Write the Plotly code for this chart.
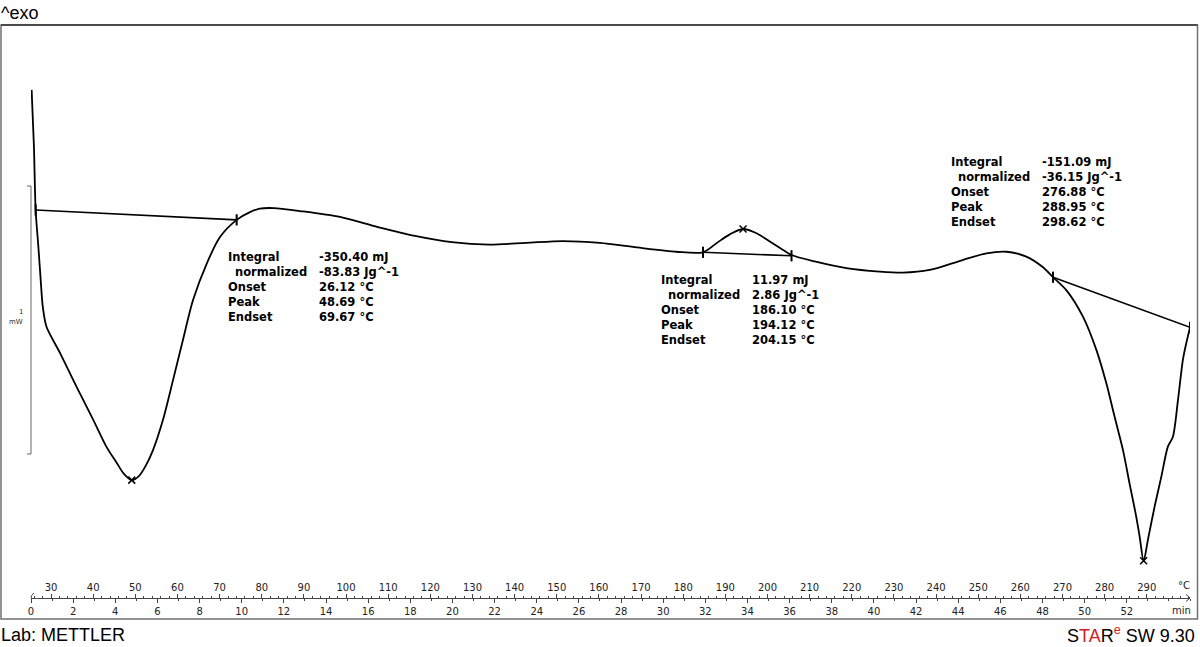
import plotly.graph_objects as go

# ---------------- data ----------------
time_min = [0.03, 0.14, 0.22, 0.35, 0.46, 0.56, 0.74, 1.38, 2.17, 2.96, 3.59, 4.07,
            4.41, 4.78, 5.12, 5.46, 5.79, 6.26, 6.74, 7.21, 7.69, 8.35, 8.97, 9.76, 10.39, 10.86,
            11.53, 12.76, 14.66, 16.46, 18.22, 19.97, 21.73, 23.48, 25.24, 27.00,
            28.75, 30.63, 31.89, 32.53, 33.16, 33.79, 34.43, 35.06, 35.69, 36.09,
            37.19, 38.76, 40.27, 41.37, 42.65, 44.21, 45.34, 46.29, 47.23, 48.01,
            48.50, 49.13, 49.92, 50.56, 51.03, 51.42, 51.82, 52.13, 52.45, 52.61,
            52.80, 53.00, 53.32, 53.64, 53.95, 54.19, 54.43, 54.66, 54.82, 55.00]
heat_flow_mW = [0.784, 0.571, 0.336, 0.198, 0.075, -0.026, -0.101, -0.198, -0.325, -0.448,
                -0.549, -0.608, -0.649, -0.672, -0.657, -0.616, -0.560, -0.448, -0.299, -0.149,
                0.000, 0.138, 0.235, 0.299, 0.328, 0.341, 0.343, 0.332, 0.310, 0.272, 0.239,
                0.216, 0.207, 0.213, 0.220, 0.213, 0.196, 0.180, 0.178, 0.212, 0.245,
                0.265, 0.249, 0.218, 0.187, 0.168, 0.144, 0.118, 0.106, 0.102, 0.112,
                0.149, 0.174, 0.180, 0.162, 0.123, 0.085, 0.037, -0.062, -0.187, -0.311,
                -0.435, -0.560, -0.684, -0.809, -0.883, -0.973, -0.896, -0.771, -0.659,
                -0.547, -0.510, -0.373, -0.224, -0.162, -0.102]

# integration baselines (start, end)
baseline_t = [[0.22, 9.76], [31.89, 36.09], [48.50, 55.00]]
baseline_h = [[0.336, 0.299], [0.178, 0.165], [0.085, -0.102]]

# peaks
peak_t = [4.78, 33.79, 52.80]
peak_h = [-0.672, 0.265, -0.973]

# evaluation results
result_labels = ["Integral", "normalized", "Onset", "Peak", "Endset"]
result_values = [
    ["-350.40 mJ", "-83.83 Jg^-1", "26.12 °C", "48.69 °C", "69.67 °C"],
    ["11.97 mJ", "2.86 Jg^-1", "186.10 °C", "194.12 °C", "204.15 °C"],
    ["-151.09 mJ", "-36.15 Jg^-1", "276.88 °C", "288.95 °C", "298.62 °C"],
]
# anchor of each result block (time in min, heat flow in mW)
result_anchor_t = [9.35, 29.90, 43.66]
result_anchor_h = [0.1604, 0.0746, 0.5149]

# axes
T_START = 25.25      # °C at t = 0
HEAT_RATE = 5.0      # K/min
T_END_MIN = 55.0
time_ticks = list(range(0, 53, 2))
temp_ticks = list(range(30, 291, 10))
Y_RANGE = [-1.1119, 1.0224]
SCALE_BAR_BOTTOM = -0.5746
SCALE_BAR_MW = 1.0

# ---------------- layout geometry ----------------
W, H = 1200, 647
ML, MR, MT, MB = 31, 10, 26, 49
PW, PH = W - ML - MR, H - MT - MB


def px_x(px):
    return (px - ML) / PW


def px_y(py):
    return (H - MB - py) / PH


TICK_FONT = dict(family="DejaVu Sans, Verdana, sans-serif", size=10, color="#222")
RES_FONT = dict(family="DejaVu Sans, Verdana, sans-serif", size=11.5, color="black")

fig = go.Figure()

fig.add_trace(go.Scatter(x=time_min, y=heat_flow_mW, mode="lines",
                         line=dict(color="black", width=1.8, shape="spline", smoothing=0.8),
                         hoverinfo="skip", showlegend=False))

for bt, bh in zip(baseline_t, baseline_h):
    fig.add_trace(go.Scatter(x=bt, y=bh, mode="lines+markers",
                             line=dict(color="black", width=1.6),
                             marker=dict(symbol="line-ns-open", size=8, color="black",
                                         line=dict(color="black", width=2)),
                             hoverinfo="skip", showlegend=False))

fig.add_trace(go.Scatter(x=peak_t, y=peak_h, mode="markers",
                         marker=dict(symbol="x-thin-open", size=7, color="black",
                                     line=dict(color="black", width=1.5)),
                         hoverinfo="skip", showlegend=False))

# invisible trace to carry the temperature axis
fig.add_trace(go.Scatter(x=[T_START, T_START + HEAT_RATE * T_END_MIN], y=[0, 0],
                         xaxis="x2", mode="markers", marker=dict(opacity=0),
                         hoverinfo="skip", showlegend=False))

annotations = []
for b, vals in enumerate(result_values):
    for i, (lab, val) in enumerate(zip(result_labels, vals)):
        annotations.append(dict(x=result_anchor_t[b], y=result_anchor_h[b], xref="x", yref="y",
                                text="<b>%s</b>" % lab, showarrow=False, xanchor="left",
                                yanchor="middle", xshift=(7 if i == 1 else 0) - 2,
                                yshift=-15 * i, font=RES_FONT))
        annotations.append(dict(x=result_anchor_t[b], y=result_anchor_h[b], xref="x", yref="y",
                                text="<b>%s</b>" % val, showarrow=False, xanchor="left",
                                yanchor="middle", xshift=91 - 2, yshift=-15 * i, font=RES_FONT))

# scale bar labels
annotations.append(dict(x=px_x(25), y=SCALE_BAR_BOTTOM + 0.53, xref="paper", yref="y",
                        text="1", showarrow=False, xanchor="right", yanchor="middle",
                        font=dict(family="DejaVu Sans, sans-serif", size=7, color="#333")))
annotations.append(dict(x=px_x(25), y=SCALE_BAR_BOTTOM + 0.493, xref="paper", yref="y",
                        text="mW", showarrow=False, xanchor="right", yanchor="middle",
                        font=dict(family="DejaVu Sans, sans-serif", size=7, color="#333")))

# unit labels of the ruler
annotations.append(dict(x=px_x(1184), y=px_y(585), xref="paper", yref="paper", text="°C",
                        showarrow=False, xanchor="center", yanchor="middle", font=TICK_FONT))
annotations.append(dict(x=px_x(1181), y=px_y(610), xref="paper", yref="paper", text="min",
                        showarrow=False, xanchor="center", yanchor="middle", font=TICK_FONT))

# header / footer
HF_FONT = dict(family="Liberation Sans, Arial, sans-serif", size=18, color="black")
annotations.append(dict(x=px_x(-1), y=px_y(13), xref="paper", yref="paper", text="^exo",
                        showarrow=False, xanchor="left", yanchor="middle", font=HF_FONT))
annotations.append(dict(x=px_x(-1), y=px_y(635), xref="paper", yref="paper", text="Lab: METTLER",
                        showarrow=False, xanchor="left", yanchor="middle", font=HF_FONT))
annotations.append(dict(x=px_x(1197), y=px_y(635), xref="paper", yref="paper",
                        text="S<span style='color:#d42020'>TA</span>R<sup><span style='color:#d42020'>e</span></sup> SW 9.30",
                        showarrow=False, xanchor="right", yanchor="middle", font=HF_FONT))

shapes = [
    # frame
    dict(type="rect", xref="paper", yref="paper", x0=px_x(1), x1=px_x(1197.5),
         y0=px_y(619), y1=px_y(25), line=dict(color="#707070", width=1.5)),
    dict(type="line", xref="paper", yref="paper", x0=px_x(1), x1=px_x(1197.5),
         y0=px_y(25), y1=px_y(25), line=dict(color="#333", width=1.5)),
    # 1 mW scale bar
    dict(type="line", xref="paper", yref="y", x0=0, x1=0,
         y0=SCALE_BAR_BOTTOM, y1=SCALE_BAR_BOTTOM + SCALE_BAR_MW,
         line=dict(color="#666", width=1)),
    dict(type="line", xref="paper", yref="y", x0=px_x(27), x1=0,
         y0=SCALE_BAR_BOTTOM, y1=SCALE_BAR_BOTTOM, line=dict(color="#666", width=1)),
    dict(type="line", xref="paper", yref="y", x0=px_x(27), x1=0,
         y0=SCALE_BAR_BOTTOM + SCALE_BAR_MW, y1=SCALE_BAR_BOTTOM + SCALE_BAR_MW,
         line=dict(color="#666", width=1)),
    # arrow head at the end of the ruler
    dict(type="path", xref="paper", yref="paper",
         path="M %f %f L %f %f L %f %f" % (px_x(ML + PW - 4), px_y(H - MB - 3.5),
                                            px_x(ML + PW), px_y(H - MB),
                                            px_x(ML + PW - 4), px_y(H - MB + 3.5)),
         line=dict(color="#444", width=1)),
    # small hook at the start of the ruler
    dict(type="path", xref="paper", yref="paper",
         path="M %f %f Q %f %f %f %f" % (px_x(ML + 3), px_y(H - MB - 5),
                                          px_x(ML), px_y(H - MB - 3),
                                          px_x(ML), px_y(H - MB)),
         line=dict(color="#444", width=1)),
]

fig.update_layout(
    width=W, height=H,
    margin=dict(l=ML, r=MR, t=MT, b=MB, pad=0),
    paper_bgcolor="white", plot_bgcolor="white",
    showlegend=False,
    xaxis=dict(range=[0, T_END_MIN], tickvals=time_ticks, ticks="outside", ticklen=4,
               tickwidth=1, tickcolor="#444", showline=True, linecolor="#444", linewidth=1,
               showgrid=False, zeroline=False, tickfont=TICK_FONT, fixedrange=True,
               minor=dict(dtick=1, tick0=0, ticks="outside", ticklen=2, tickcolor="#444")),
    xaxis2=dict(range=[T_START, T_START + HEAT_RATE * T_END_MIN], overlaying="x", anchor="y",
                side="bottom", tickvals=temp_ticks, ticks="inside", ticklen=4, tickwidth=1,
                tickcolor="#444", ticklabelposition="inside", showline=False, showgrid=False,
                zeroline=False, tickfont=TICK_FONT, fixedrange=True,
                minor=dict(dtick=2, tick0=0, ticks="inside", ticklen=2, tickcolor="#444")),
    yaxis=dict(range=Y_RANGE, visible=False, fixedrange=True),
    annotations=annotations,
    shapes=shapes,
)

fig.write_html("out.html", config={"displayModeBar": False},
               post_script="document.body.style.margin='0';document.body.style.overflow='hidden';")
